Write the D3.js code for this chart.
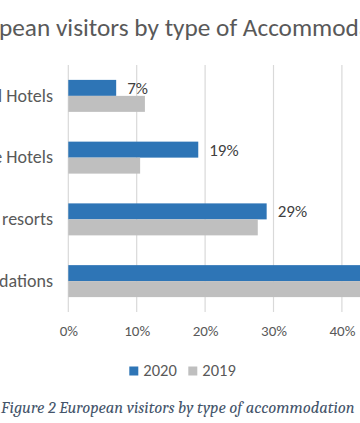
<!DOCTYPE html>
<html>
<head>
<meta charset="utf-8">
<script src="https://cdn.jsdelivr.net/npm/d3@7/dist/d3.min.js"></script>
<style>
  html, body { margin: 0; padding: 0; background: #fff; overflow: hidden; }
  svg { display: block; }
</style>
</head>
<body>
<svg id="chart" width="360" height="423"></svg>
<script>
// ---- data ----
const categories = ["Small Hotels", "Large Hotels", "Summer resorts", "Other accommodations"];
const series = ["2020", "2019"];
const values2020 = [0.07, 0.19, 0.29, 0.45];
const values2019 = [0.112, 0.105, 0.277, 0.50];
const dataLabels2020 = ["7%", "19%", "29%", "45%"];
const tickValues = [0, 0.1, 0.2, 0.3, 0.4, 0.5];
const titleText = "European visitors by type of Accommodation";
const captionText = "Figure 2 European visitors by type of accommodation";

const colors = { "2020": "#2E75B6", "2019": "#BFBFBF" };
const FONT = "Carlito, Calibri, Lato, 'Open Sans', sans-serif";

const svg = d3.select("#chart");

// helper to measure text
function measure(txt, size, family, style) {
  const t = svg.append("text").attr("font-family", family).attr("font-size", size)
    .attr("font-style", style || "normal").text(txt);
  const w = t.node().getComputedTextLength();
  t.remove();
  return w;
}

// ---- scales ----
const x = d3.scaleLinear().domain([0, 0.5]).range([68.3, 410.3]);
const y = d3.scaleBand().domain(categories).range([65, 312]).paddingInner(0.482).paddingOuter(0.241);
const ySub = d3.scaleBand().domain(series).range([0, y.bandwidth()]);

// ---- gridlines ----
svg.append("g").selectAll("line").data(tickValues).join("line")
  .attr("x1", d => x(d)).attr("x2", d => x(d))
  .attr("y1", 65).attr("y2", 312)
  .attr("stroke", "#D9D9D9").attr("stroke-width", 1.2);

// ---- x axis tick labels ----
const xAxis = d3.axisBottom(x).tickValues(tickValues).tickFormat(d3.format(".0%")).tickSize(0).tickPadding(0);
const gx = svg.append("g").attr("transform", "translate(0,325)").call(xAxis);
gx.select(".domain").remove();
gx.selectAll("text").attr("font-family", FONT).attr("font-size", 15).attr("fill", "#595959")
  .attr("dy", "0.71em");

// ---- category labels ----
const yAxis = d3.axisLeft(y).tickSize(0).tickPadding(0);
const gy = svg.append("g").attr("transform", "translate(53,0)").call(yAxis);
gy.select(".domain").remove();
gy.selectAll("text").attr("font-family", FONT).attr("font-size", 18).attr("fill", "#595959");

// ---- bars ----
const rows = categories.map((c, i) => ({ cat: c, "2020": values2020[i], "2019": values2019[i], label: dataLabels2020[i] }));
const groups = svg.append("g").selectAll("g").data(rows).join("g")
  .attr("transform", d => `translate(0,${y(d.cat)})`);
groups.selectAll("rect").data(d => series.map(s => ({ s, v: d[s] }))).join("rect")
  .attr("x", x(0))
  .attr("y", d => ySub(d.s))
  .attr("width", d => x(d.v) - x(0))
  .attr("height", ySub.bandwidth())
  .attr("fill", d => colors[d.s]);

// ---- data labels (2020) ----
groups.append("text")
  .attr("x", d => x(d["2020"]) + 11)
  .attr("y", ySub("2020") + ySub.bandwidth() / 2)
  .attr("dy", "0.35em")
  .attr("font-family", FONT).attr("font-size", 17).attr("fill", "#404040")
  .text(d => d.label);

// ---- title ----
{
  const base = 26;
  const visible = "pean visitors by type of Accommod";
  const wVis = measure(visible, base, FONT);
  const size = base * 360 / wVis;
  const wPre = measure("Euro", size, FONT);
  svg.append("text").attr("x", -1 - wPre).attr("y", 35.5)
    .attr("font-family", FONT).attr("font-size", size).attr("fill", "#595959")
    .text(titleText);
}

// ---- legend ----
const lg = svg.append("g").selectAll("g").data(series).join("g")
  .attr("transform", (d, i) => `translate(${129.3 + i * 59},0)`);
lg.append("rect").attr("x", 0).attr("y", 366.5).attr("width", 9).attr("height", 9)
  .attr("fill", d => colors[d]);
lg.append("text").attr("x", 14).attr("y", 376)
  .attr("font-family", FONT).attr("font-size", 16.5).attr("fill", "#595959")
  .text(d => d);

// ---- caption ----
{
  const fam = "Cambria, 'DejaVu Serif', 'Liberation Serif', serif";
  const base = 15;
  const w = measure(captionText, base, fam, "italic");
  const size = base * 354 / w;
  svg.append("text").attr("x", 1).attr("y", 412.5)
    .attr("font-family", fam).attr("font-style", "italic").attr("font-size", size)
    .attr("fill", "#44546A").text(captionText);
}
</script>
</body>
</html>
